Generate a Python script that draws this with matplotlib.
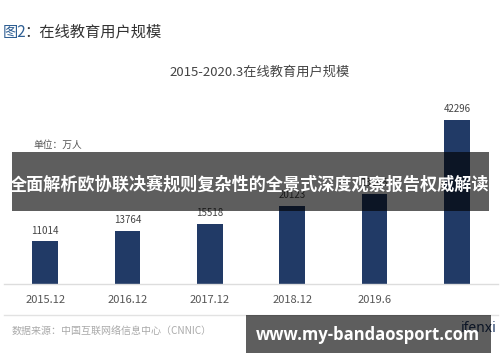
import matplotlib
matplotlib.use("Agg")
import matplotlib.pyplot as plt
from matplotlib.patches import Rectangle

plt.rcParams['font.family'] = ['Noto Sans CJK SC', 'DejaVu Sans']

# ================= DATA =================

categories = ["2015.12", "2016.12", "2017.12", "2018.12", "2019.6", "2020.3"]
users = [11014, 13764, 15518, 20123, 23246, 42296]
tick_labels = ["2015.12", "2016.12", "2017.12", "2018.12", "2019.6", ""]

W, H = 500, 362
BAR_COLOR = "#213a66"


def fx(px):
    return px / W


def fy(py):
    return 1 - py / H


# ================= FIGURE =================

fig = plt.figure(figsize=(W / 100, H / 100), dpi=100)
fig.patch.set_facecolor("white")

# axes: x from 4px to 498px, baseline at 284px, top at 100px
ax = fig.add_axes([fx(4), fy(284), fx(494), 184 / H])
ax.set_xlim(-0.5, 5.5)
ax.set_ylim(0, 42296 * 184 / 164)

x = list(range(len(categories)))
bars = ax.bar(x, users, width=0.315, color=BAR_COLOR, zorder=2)

for xi, v in zip(x, users):
    ax.annotate(str(v), (xi, v), xytext=(0, 4), textcoords="offset points",
                ha="center", va="bottom", fontsize=7, color="#444444")

ax.set_xticks(x)
ax.set_xticklabels(tick_labels, fontsize=8, color="#555555")
ax.tick_params(axis="x", length=0, pad=8)
ax.set_yticks([])
for s in ["top", "right", "left"]:
    ax.spines[s].set_visible(False)
ax.spines["bottom"].set_color("#dddddd")
ax.spines["bottom"].set_linewidth(1.0)
ax.set_facecolor("none")

# ================= TEXTS =================

fig.text(fx(3), fy(32), "图2", fontsize=11, color="#2f5f93", va="center", ha="left",
         fontweight="medium")
fig.text(fx(24), fy(32), "：在线教育用户规模", fontsize=11, color="#333333",
         va="center", ha="left", fontweight="medium")
fig.text(fx(260), fy(72), "2015-2020.3在线教育用户规模", fontsize=9.5, color="#444444",
         va="center", ha="center")
fig.text(fx(33), fy(145), "单位：万人", fontsize=7, color="#555555", va="center", ha="left")

# separator and source
fig.add_artist(plt.Line2D([fx(4), fx(498)], [fy(315), fy(315)], color="#e2e2e2", lw=1.0))
fig.text(fx(12), fy(332), "数据来源：中国互联网络信息中心（CNNIC）", fontsize=7.2,
         color="#aaaaaa", va="center", ha="left")
fig.text(fx(497), fy(328), "ifenxi", fontsize=10, color="#1f3864", fontweight="bold",
         va="center", ha="right", family=["Noto Sans", "DejaVu Sans"])

# ================= OVERLAY BANNERS =================

fig.add_artist(Rectangle((fx(12), fy(211)), fx(477), 59 / H, transform=fig.transFigure,
                         facecolor="black", alpha=0.63, edgecolor="none", zorder=10))
fig.text(fx(250), fy(185), "全面解析欧协联决赛规则复杂性的全景式深度观察报告权威解读",
         fontsize=12.3, fontweight="bold", color="white", va="center", ha="center",
         zorder=11)

fig.add_artist(Rectangle((fx(246), fy(353)), fx(245), 38 / H, transform=fig.transFigure,
                         facecolor="black", alpha=0.63, edgecolor="none", zorder=10))
fig.text(fx(368), fy(335), "www.my-bandaosport.com", fontsize=12, fontweight="bold",
         color="white", va="center", ha="center", zorder=11,
         family=["Open Sans", "DejaVu Sans"])

fig.savefig("out.png", dpi=100)
